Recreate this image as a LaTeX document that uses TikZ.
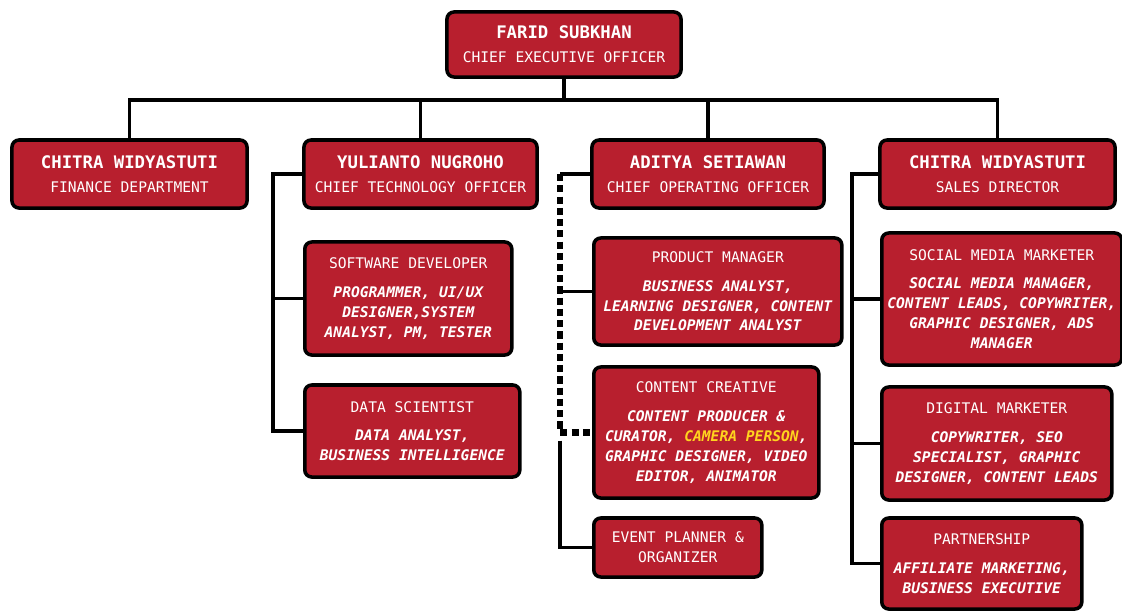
\documentclass[tikz,border=0pt]{standalone}
\usepackage{fontspec}
\usepackage{xcolor}
\usepackage{tikz}
\usetikzlibrary{positioning}
\newfontfamily\boxfont{DejaVu Sans Mono}
\definecolor{Rot}{RGB}{184,31,46}
\definecolor{Gelb}{RGB}{255,212,30}
\newcommand{\Name}[1]{{\fontsize{12.3}{14}\selectfont\bfseries #1}}
\newcommand{\Aufg}[1]{{\bfseries\itshape #1}}
\tikzset{
  Kasten/.style 2 args={draw=black, line width=2.5pt, fill=Rot, text=white,
    rounded corners=5pt, align=center, inner sep=1pt,
    minimum width=#1, minimum height=#2,
    font=\boxfont\fontsize{10.4}{14.2}\selectfont}, % alle Kästen
  Linie/.style={line width=2.6pt},                         % Verbindungen
  Punkte/.style={line width=4.4pt, dash pattern=on 5pt off 3pt} % gestrichelt
}

\begin{document}
\begin{tikzpicture}[x=0.025cm, y=-0.025cm]
\useasboundingbox (0,0) rectangle (1122,611);

%Leitung
\node[Kasten={5.85cm}{1.625cm}] (ceo) at (564,44.5)
  {\Name{FARID SUBKHAN}\\[3pt] CHIEF EXECUTIVE OFFICER};

%Bereiche
\node[Kasten={5.875cm}{1.7cm}] (fin) at (129.5,174)
  {\Name{CHITRA WIDYASTUTI}\\[3pt] FINANCE DEPARTMENT};
\node[Kasten={5.825cm}{1.7cm}] (cto) at (420.5,174)
  {\Name{YULIANTO NUGROHO}\\[3pt] CHIEF TECHNOLOGY OFFICER};
\node[Kasten={5.8cm}{1.7cm}] (coo) at (708,174)
  {\Name{ADITYA SETIAWAN}\\[3pt] CHIEF OPERATING OFFICER};
\node[Kasten={5.875cm}{1.7cm}] (sales) at (997.5,174)
  {\Name{CHITRA WIDYASTUTI}\\[3pt] SALES DIRECTOR};

%Technik
\node[Kasten={5.175cm}{2.825cm}, anchor=west] (sw) at (303,298.5)
  {SOFTWARE DEVELOPER\\[6pt] \Aufg{PROGRAMMER, UI/UX}\\ \Aufg{DESIGNER,SYSTEM}\\
   \Aufg{ANALYST, PM, TESTER}};
\node[Kasten={5.375cm}{2.3cm}, anchor=west] (ds) at (303,431)
  {DATA SCIENTIST\\[6pt] \Aufg{DATA ANALYST,}\\ \Aufg{BUSINESS INTELLIGENCE}};

%Betrieb
\node[Kasten={6.2cm}{2.675cm}, anchor=west] (pm) at (592,291.5)
  {PRODUCT MANAGER\\[6pt] \Aufg{BUSINESS ANALYST,}\\ \Aufg{LEARNING DESIGNER, CONTENT}\\
   \Aufg{DEVELOPMENT ANALYST}};
\node[Kasten={5.625cm}{3.275cm}, anchor=west] (cc) at (592,432.5)
  {CONTENT CREATIVE\\[6pt] \Aufg{CONTENT PRODUCER \&}\\
   \Aufg{CURATOR, \textcolor{Gelb}{CAMERA PERSON},}\\
   \Aufg{GRAPHIC DESIGNER, VIDEO}\\ \Aufg{EDITOR, ANIMATOR}};
\node[Kasten={4.2cm}{1.475cm}, anchor=west] (ev) at (592,547.5)
  {EVENT PLANNER \&\\ ORGANIZER};

%Vertrieb
\node[Kasten={6.0cm}{3.3cm}, anchor=west] (smm) at (880,299)
  {SOCIAL MEDIA MARKETER\\[6pt] \Aufg{SOCIAL MEDIA MANAGER,}\\
   \Aufg{CONTENT LEADS, COPYWRITER,}\\ \Aufg{GRAPHIC DESIGNER, ADS}\\ \Aufg{MANAGER}};
\node[Kasten={5.75cm}{2.825cm}, anchor=west] (dm) at (880,443.5)
  {DIGITAL MARKETER\\[6pt] \Aufg{COPYWRITER, SEO}\\ \Aufg{SPECIALIST, GRAPHIC}\\
   \Aufg{DESIGNER, CONTENT LEADS}};
\node[Kasten={5.0cm}{2.275cm}, anchor=west] (ps) at (880,563.5)
  {PARTNERSHIP\\[6pt] \Aufg{AFFILIATE MARKETING,}\\ \Aufg{BUSINESS EXECUTIVE}};

%Verbindungen
\draw[Linie] (ceo.south) -- ++(0,21) coordinate (bus);
\draw[Linie] (fin.north) |- (bus) -| (sales.north);
\draw[Linie] (cto.north) -- (cto.north |- bus);
\draw[Linie] (coo.north) -- (coo.north |- bus);

\draw[Linie] (cto.west) -- ++(-29,0) coordinate (ctoT) |- (ds.west);
\draw[Linie] (ctoT |- sw.west) -- (sw.west);

\draw[Linie] (coo.west) -- ++(-30,0) coordinate (cooT);
\draw[Punkte] (cooT) |- (cc.west);
\draw[Linie] (cooT |- pm.west) -- (pm.west);
\draw[Linie] (cooT |- cc.west) ++(0,8) |- (ev.west);

\draw[Linie] (sales.west) -- ++(-26,0) coordinate (salesT) |- (ps.west);
\draw[Linie] (salesT |- smm.west) -- (smm.west);
\draw[Linie] (salesT |- dm.west) -- (dm.west);
\end{tikzpicture}
\end{document}
